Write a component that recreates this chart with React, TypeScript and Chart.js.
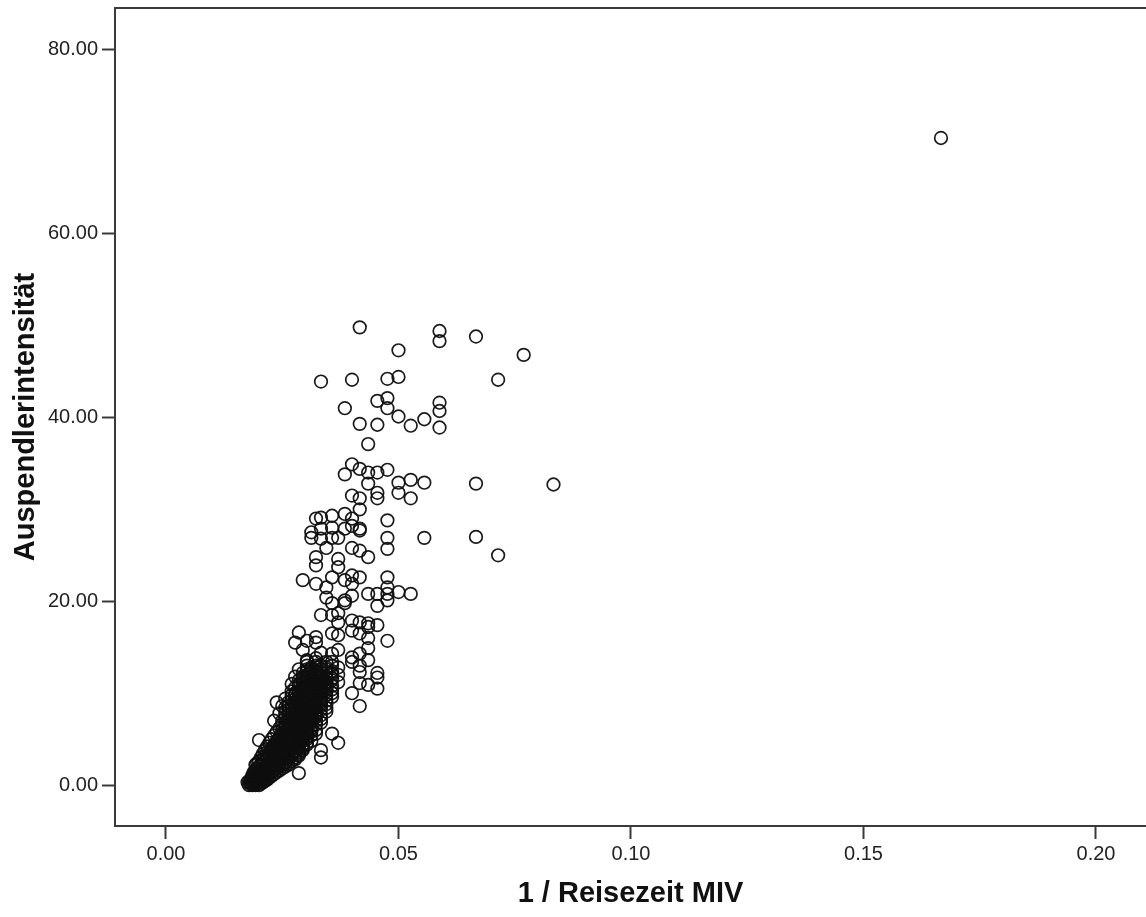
import { useEffect, useRef } from "react";
import { Chart, registerables } from "chart.js";

Chart.register(...registerables);

// Axis ticks
const xTickValues = [0, 0.05, 0.1, 0.15, 0.2];
const xTickLabels = ["0.00", "0.05", "0.10", "0.15", "0.20"];
const yTickValues = [0, 20, 40, 60, 80];
const yTickLabels = ["0.00", "20.00", "40.00", "60.00", "80.00"];

const xTitle = "1 / Reisezeit MIV";
const yTitle = "Auspendlerintensität";

// Each point: [Reisezeit MIV in Minuten, Auspendlerintensität]; x = 1 / Reisezeit
const ausreisser: [number, number][] = [[6, 70.4]];

const obereGruppe: [number, number][] = [
  [24, 49.8], [20, 47.3], [17, 49.4], [17, 48.3], [15, 48.8], [13, 46.8],
  [30, 43.9], [25, 44.1], [21, 44.2], [20, 44.4], [14, 44.1],
  [26, 41.0], [22, 41.8], [21, 42.1], [21, 41.0], [20, 40.1], [19, 39.1], [18, 39.8],
  [17, 41.6], [17, 40.7], [17, 38.9], [24, 39.3], [22, 39.2], [23, 37.1],
  [25, 34.9], [24, 34.4], [23, 34.0], [22, 34.0], [21, 34.3], [26, 33.8],
  [23, 32.8], [22, 31.8], [22, 31.2], [20, 32.9], [20, 31.8], [19, 33.2], [19, 31.2],
  [18, 32.9], [15, 32.8], [12, 32.7], [25, 31.5], [24, 31.2], [24, 30.0],
  [21, 28.8], [21, 26.9], [21, 25.7], [18, 26.9], [15, 27.0], [14, 25.0],
];

const mittlereGruppe: [number, number][] = [
  [31, 29.0], [30, 29.1], [28, 29.3], [26, 29.5], [25, 29.0], [24, 27.9], [32, 27.5],
  [30, 27.9], [28, 28.0], [26, 27.9], [25, 28.2], [32, 26.9], [30, 26.8], [28, 26.9],
  [27, 26.9], [29, 25.8], [25, 25.8], [24, 25.5], [23, 24.8], [24, 27.7], [31, 24.8],
  [31, 23.9], [27, 24.6], [27, 23.7], [34, 22.3], [31, 21.9], [29, 21.5], [28, 22.6],
  [26, 22.3], [25, 22.8], [24, 22.6], [25, 21.9], [21, 22.6], [21, 21.5], [21, 20.8],
  [22, 20.8], [23, 20.8], [20, 21.0], [19, 20.8], [29, 20.4], [28, 19.8], [26, 20.1],
  [22, 19.5], [21, 20.1], [25, 20.6], [26, 19.8],
  [30, 18.5], [28, 18.5], [27, 18.7], [27, 17.7], [25, 17.9], [24, 17.7], [23, 17.6],
  [22, 17.4], [23, 17.2], [35, 16.6], [31, 15.5], [33, 15.7], [31, 16.1], [28, 16.5],
  [27, 16.3], [25, 16.8], [24, 16.5], [23, 16.0], [21, 15.7], [36, 15.5], [34, 14.7],
  [30, 14.4], [28, 14.3], [27, 14.7], [25, 13.9], [24, 14.3], [23, 14.9], [23, 13.6],
  [33, 13.6], [31, 13.8], [25, 13.4], [24, 13.0], [24, 12.3], [22, 11.7], [23, 10.9],
  [22, 10.5], [25, 10.0], [24, 11.1], [22, 12.2],
];

const untereStreuung: [number, number][] = [
  [42, 9.0], [50, 4.9], [28, 5.6], [27, 4.6], [30, 3.8], [30, 3.0], [35, 1.3], [24, 8.6],
];

const kernPunkteA: [number, number][] = [
  [50, 0.0], [52, 0.0], [54, 0.0], [56, 0.0],
  [48, 0.3], [50, 0.3], [53, 0.3], [55, 0.3], [57, 0.3],
  [46, 0.6], [48, 0.6], [51, 0.6], [53, 0.6], [55, 0.6],
  [44, 1.0], [46, 1.0], [48, 1.0], [50, 1.0], [52, 1.0], [54, 1.0],
  [42, 1.4], [44, 1.4], [46, 1.4], [48, 1.4], [50, 1.4], [53, 1.4],
  [40, 1.8], [42, 1.8], [44, 1.8], [46, 1.8], [48, 1.8], [51, 1.8],
  [38, 2.2], [40, 2.2], [42, 2.2], [44, 2.2], [46, 2.2], [49, 2.2], [52, 2.2],
  [37, 2.6], [39, 2.6], [41, 2.6], [43, 2.6], [45, 2.6], [47, 2.6], [50, 2.6],
  [36, 3.0], [38, 3.0], [40, 3.0], [42, 3.0], [44, 3.0], [46, 3.0], [49, 3.0],
  [35, 3.4], [37, 3.4], [39, 3.4], [41, 3.4], [43, 3.4], [45, 3.4], [48, 3.4],
  [34, 3.8], [36, 3.8], [38, 3.8], [40, 3.8], [42, 3.8], [44, 3.8], [47, 3.8],
  [34, 4.2], [35, 4.2], [37, 4.2], [39, 4.2], [41, 4.2], [43, 4.2], [46, 4.2],
  [33, 4.6], [35, 4.6], [36, 4.6], [38, 4.6], [40, 4.6], [42, 4.6], [45, 4.6],
  [33, 5.0], [34, 5.0], [36, 5.0], [37, 5.0], [39, 5.0], [41, 5.0], [44, 5.0],
  [32, 5.4], [34, 5.4], [35, 5.4], [37, 5.4], [38, 5.4], [40, 5.4], [43, 5.4],
  [32, 5.8], [33, 5.8], [35, 5.8], [36, 5.8], [38, 5.8], [39, 5.8], [42, 5.8],
  [32, 6.2], [33, 6.2], [34, 6.2], [36, 6.2], [37, 6.2], [39, 6.2], [41, 6.2],
  [31, 6.6], [33, 6.6], [34, 6.6], [35, 6.6], [37, 6.6], [38, 6.6], [40, 6.6],
  [31, 7.0], [32, 7.0], [34, 7.0], [35, 7.0], [36, 7.0], [38, 7.0], [40, 7.0], [43, 7.0],
  [31, 7.4], [32, 7.4], [33, 7.4], [35, 7.4], [36, 7.4], [37, 7.4], [39, 7.4],
  [31, 7.8], [32, 7.8], [33, 7.8], [34, 7.8], [36, 7.8], [37, 7.8], [39, 7.8], [41, 7.8],
  [30, 8.2], [32, 8.2], [33, 8.2], [34, 8.2], [35, 8.2], [37, 8.2], [38, 8.2],
  [30, 8.6], [31, 8.6], [33, 8.6], [34, 8.6], [35, 8.6], [36, 8.6], [38, 8.6], [40, 8.6],
  [30, 9.0], [31, 9.0], [32, 9.0], [34, 9.0], [35, 9.0], [36, 9.0], [38, 9.0],
  [30, 9.4], [31, 9.4], [32, 9.4], [33, 9.4], [35, 9.4], [36, 9.4], [39, 9.4],
  [29, 9.8], [31, 9.8], [32, 9.8], [33, 9.8], [34, 9.8], [36, 9.8], [37, 9.8],
  [29, 10.2], [30, 10.2], [32, 10.2], [33, 10.2], [34, 10.2], [35, 10.2], [37, 10.2],
  [29, 10.6], [30, 10.6], [31, 10.6], [33, 10.6], [34, 10.6], [36, 10.6],
  [29, 11.0], [30, 11.0], [31, 11.0], [32, 11.0], [34, 11.0], [35, 11.0], [37, 11.0],
  [28, 11.4], [30, 11.4], [31, 11.4], [32, 11.4], [33, 11.4], [35, 11.4],
  [29, 11.8], [30, 11.8], [31, 11.8], [33, 11.8], [34, 11.8], [36, 11.8],
  [28, 12.2], [29, 12.2], [31, 12.2], [32, 12.2], [34, 12.2],
  [29, 12.6], [30, 12.6], [32, 12.6], [33, 12.6], [35, 12.6],
  [28, 13.0], [30, 13.0], [31, 13.0], [33, 13.0],
];

const kernPunkteB: [number, number][] = [
  [49, 0.15], [51, 0.15], [53, 0.15], [55, 0.15],
  [47, 0.45], [49, 0.45], [52, 0.45], [54, 0.45], [56, 0.45],
  [45, 0.8], [47, 0.8], [49, 0.8], [52, 0.8], [54, 0.8],
  [43, 1.2], [45, 1.2], [47, 1.2], [49, 1.2], [51, 1.2], [53, 1.2],
  [41, 1.6], [43, 1.6], [45, 1.6], [47, 1.6], [49, 1.6], [52, 1.6],
  [39, 2.0], [41, 2.0], [43, 2.0], [45, 2.0], [47, 2.0], [50, 2.0],
  [38, 2.4], [39, 2.4], [41, 2.4], [43, 2.4], [45, 2.4], [48, 2.4], [51, 2.4],
  [36, 2.8], [38, 2.8], [40, 2.8], [42, 2.8], [44, 2.8], [46, 2.8], [48, 2.8],
  [35, 3.2], [37, 3.2], [39, 3.2], [41, 3.2], [43, 3.2], [45, 3.2], [47, 3.2],
  [35, 3.6], [36, 3.6], [38, 3.6], [40, 3.6], [42, 3.6], [44, 3.6], [46, 3.6],
  [34, 4.0], [35, 4.0], [36, 4.0], [38, 4.0], [40, 4.0], [42, 4.0], [44, 4.0],
  [33, 4.4], [34, 4.4], [36, 4.4], [37, 4.4], [39, 4.4], [41, 4.4], [43, 4.4],
  [32, 4.8], [34, 4.8], [35, 4.8], [37, 4.8], [38, 4.8], [40, 4.8], [42, 4.8],
  [33, 5.2], [34, 5.2], [36, 5.2], [38, 5.2], [39, 5.2], [41, 5.2],
  [31, 5.6], [33, 5.6], [34, 5.6], [36, 5.6], [37, 5.6], [40, 5.6],
  [31, 6.0], [32, 6.0], [34, 6.0], [35, 6.0], [37, 6.0], [38, 6.0], [40, 6.0],
  [32, 6.4], [33, 6.4], [35, 6.4], [36, 6.4], [38, 6.4], [39, 6.4],
  [30, 6.8], [32, 6.8], [33, 6.8], [34, 6.8], [36, 6.8], [37, 6.8], [39, 6.8],
  [30, 7.2], [32, 7.2], [33, 7.2], [34, 7.2], [36, 7.2], [38, 7.2],
  [30, 7.6], [31, 7.6], [32, 7.6], [34, 7.6], [35, 7.6], [36, 7.6], [38, 7.6],
  [29, 8.0], [31, 8.0], [32, 8.0], [33, 8.0], [35, 8.0], [36, 8.0],
  [29, 8.4], [31, 8.4], [32, 8.4], [33, 8.4], [34, 8.4], [36, 8.4], [39, 8.4],
  [29, 8.8], [30, 8.8], [32, 8.8], [33, 8.8], [34, 8.8], [37, 8.8],
  [29, 9.2], [30, 9.2], [31, 9.2], [33, 9.2], [34, 9.2], [35, 9.2], [37, 9.2],
  [28, 9.6], [30, 9.6], [31, 9.6], [32, 9.6], [34, 9.6], [35, 9.6],
  [28, 10.0], [30, 10.0], [31, 10.0], [32, 10.0], [33, 10.0], [35, 10.0], [36, 10.0],
  [28, 10.4], [29, 10.4], [31, 10.4], [32, 10.4], [33, 10.4], [34, 10.4],
  [28, 10.8], [29, 10.8], [30, 10.8], [32, 10.8], [33, 10.8], [35, 10.8],
  [27, 11.2], [29, 11.2], [30, 11.2], [31, 11.2], [33, 11.2], [34, 11.2],
  [28, 11.6], [29, 11.6], [30, 11.6], [32, 11.6], [34, 11.6],
  [27, 12.0], [28, 12.0], [30, 12.0], [31, 12.0], [33, 12.0],
  [28, 12.4], [30, 12.4], [31, 12.4], [33, 12.4],
  [27, 12.8], [29, 12.8], [31, 12.8], [32, 12.8],
  [28, 13.4], [29, 13.4], [31, 13.4], [33, 13.4],
];

const alleGruppen = [ausreisser, obereGruppe, mittlereGruppe, untereStreuung, kernPunkteA, kernPunkteB];

const FONT = "'Liberation Sans', Arial, sans-serif";
const AXIS_COLOR = "#3a3a3a";

const CANVAS_W = 1154;
const CANVAS_H = 917;

const topBorder = {
  id: "topBorder",
  afterDraw(chart: any) {
    const { ctx, chartArea } = chart;
    ctx.save();
    ctx.strokeStyle = AXIS_COLOR;
    ctx.lineWidth = 2;
    ctx.beginPath();
    ctx.moveTo(chartArea.left, chartArea.top);
    ctx.lineTo(chartArea.right + 20, chartArea.top);
    ctx.stroke();
    ctx.restore();
  },
};

const zeroPadding = (s: any) => {
  s.paddingTop = 0;
  s.paddingBottom = 0;
  s.paddingLeft = 0;
  s.paddingRight = 0;
};

export default function App() {
  const canvasRef = useRef<HTMLCanvasElement | null>(null);

  useEffect(() => {
    if (!canvasRef.current) return;
    const points = alleGruppen.flat().map(([t, v]) => ({ x: 1 / t, y: v }));
    const chart = new Chart(canvasRef.current, {
      type: "scatter",
      data: {
        datasets: [
          {
            data: points,
            pointRadius: 6.3,
            pointHoverRadius: 6.3,
            pointBorderWidth: 1.7,
            pointBorderColor: "rgba(15,15,15,0.95)",
            pointBackgroundColor: "rgba(0,0,0,0)",
          },
        ],
      },
      options: {
        animation: false,
        responsive: false,
        devicePixelRatio: 1,
        layout: { padding: { top: 6, left: 0, right: 0, bottom: 0 } },
        plugins: {
          legend: { display: false },
          tooltip: { enabled: false },
        },
        scales: {
          x: {
            type: "linear",
            min: -0.010968,
            max: 0.21076,
            afterBuildTicks: (s: any) => {
              s.ticks = xTickValues.map((v) => ({ value: v }));
            },
            afterFit: (s: any) => {
              s.height = 91;
              zeroPadding(s);
            },
            ticks: {
              callback: (_v: any, i: number) => xTickLabels[i],
              font: { family: FONT, size: 20 },
              color: "#222",
              padding: 3,
              maxRotation: 0,
            },
            grid: {
              drawOnChartArea: false,
              drawTicks: true,
              tickLength: 13,
              tickColor: AXIS_COLOR,
              tickWidth: 2,
            },
            border: { display: true, color: AXIS_COLOR, width: 2 },
            title: {
              display: true,
              text: xTitle,
              font: { family: FONT, size: 29, weight: "bold" },
              color: "#111",
              padding: { top: 0, bottom: 6 },
            },
          },
          y: {
            type: "linear",
            min: -4.45,
            max: 84.54,
            afterBuildTicks: (s: any) => {
              s.ticks = yTickValues.map((v) => ({ value: v }));
            },
            afterFit: (s: any) => {
              s.width = 115;
              zeroPadding(s);
            },
            ticks: {
              callback: (_v: any, i: number) => yTickLabels[i],
              font: { family: FONT, size: 20 },
              color: "#222",
              padding: 4,
            },
            grid: {
              drawOnChartArea: false,
              drawTicks: true,
              tickLength: 13,
              tickColor: AXIS_COLOR,
              tickWidth: 2,
            },
            border: { display: true, color: AXIS_COLOR, width: 2 },
            title: {
              display: true,
              text: yTitle,
              font: { family: FONT, size: 29, weight: "bold" },
              color: "#111",
              padding: { top: 9, bottom: 0 },
            },
          },
        },
      },
      plugins: [topBorder],
    });
    return () => chart.destroy();
  }, []);

  return (
    <div
      style={{
        position: "absolute",
        left: 0,
        top: 0,
        width: 1146,
        height: 917,
        overflow: "hidden",
        background: "#fff",
      }}
    >
      <canvas
        ref={canvasRef}
        width={CANVAS_W}
        height={CANVAS_H}
        style={{ display: "block", width: CANVAS_W, height: CANVAS_H }}
      />
    </div>
  );
}
